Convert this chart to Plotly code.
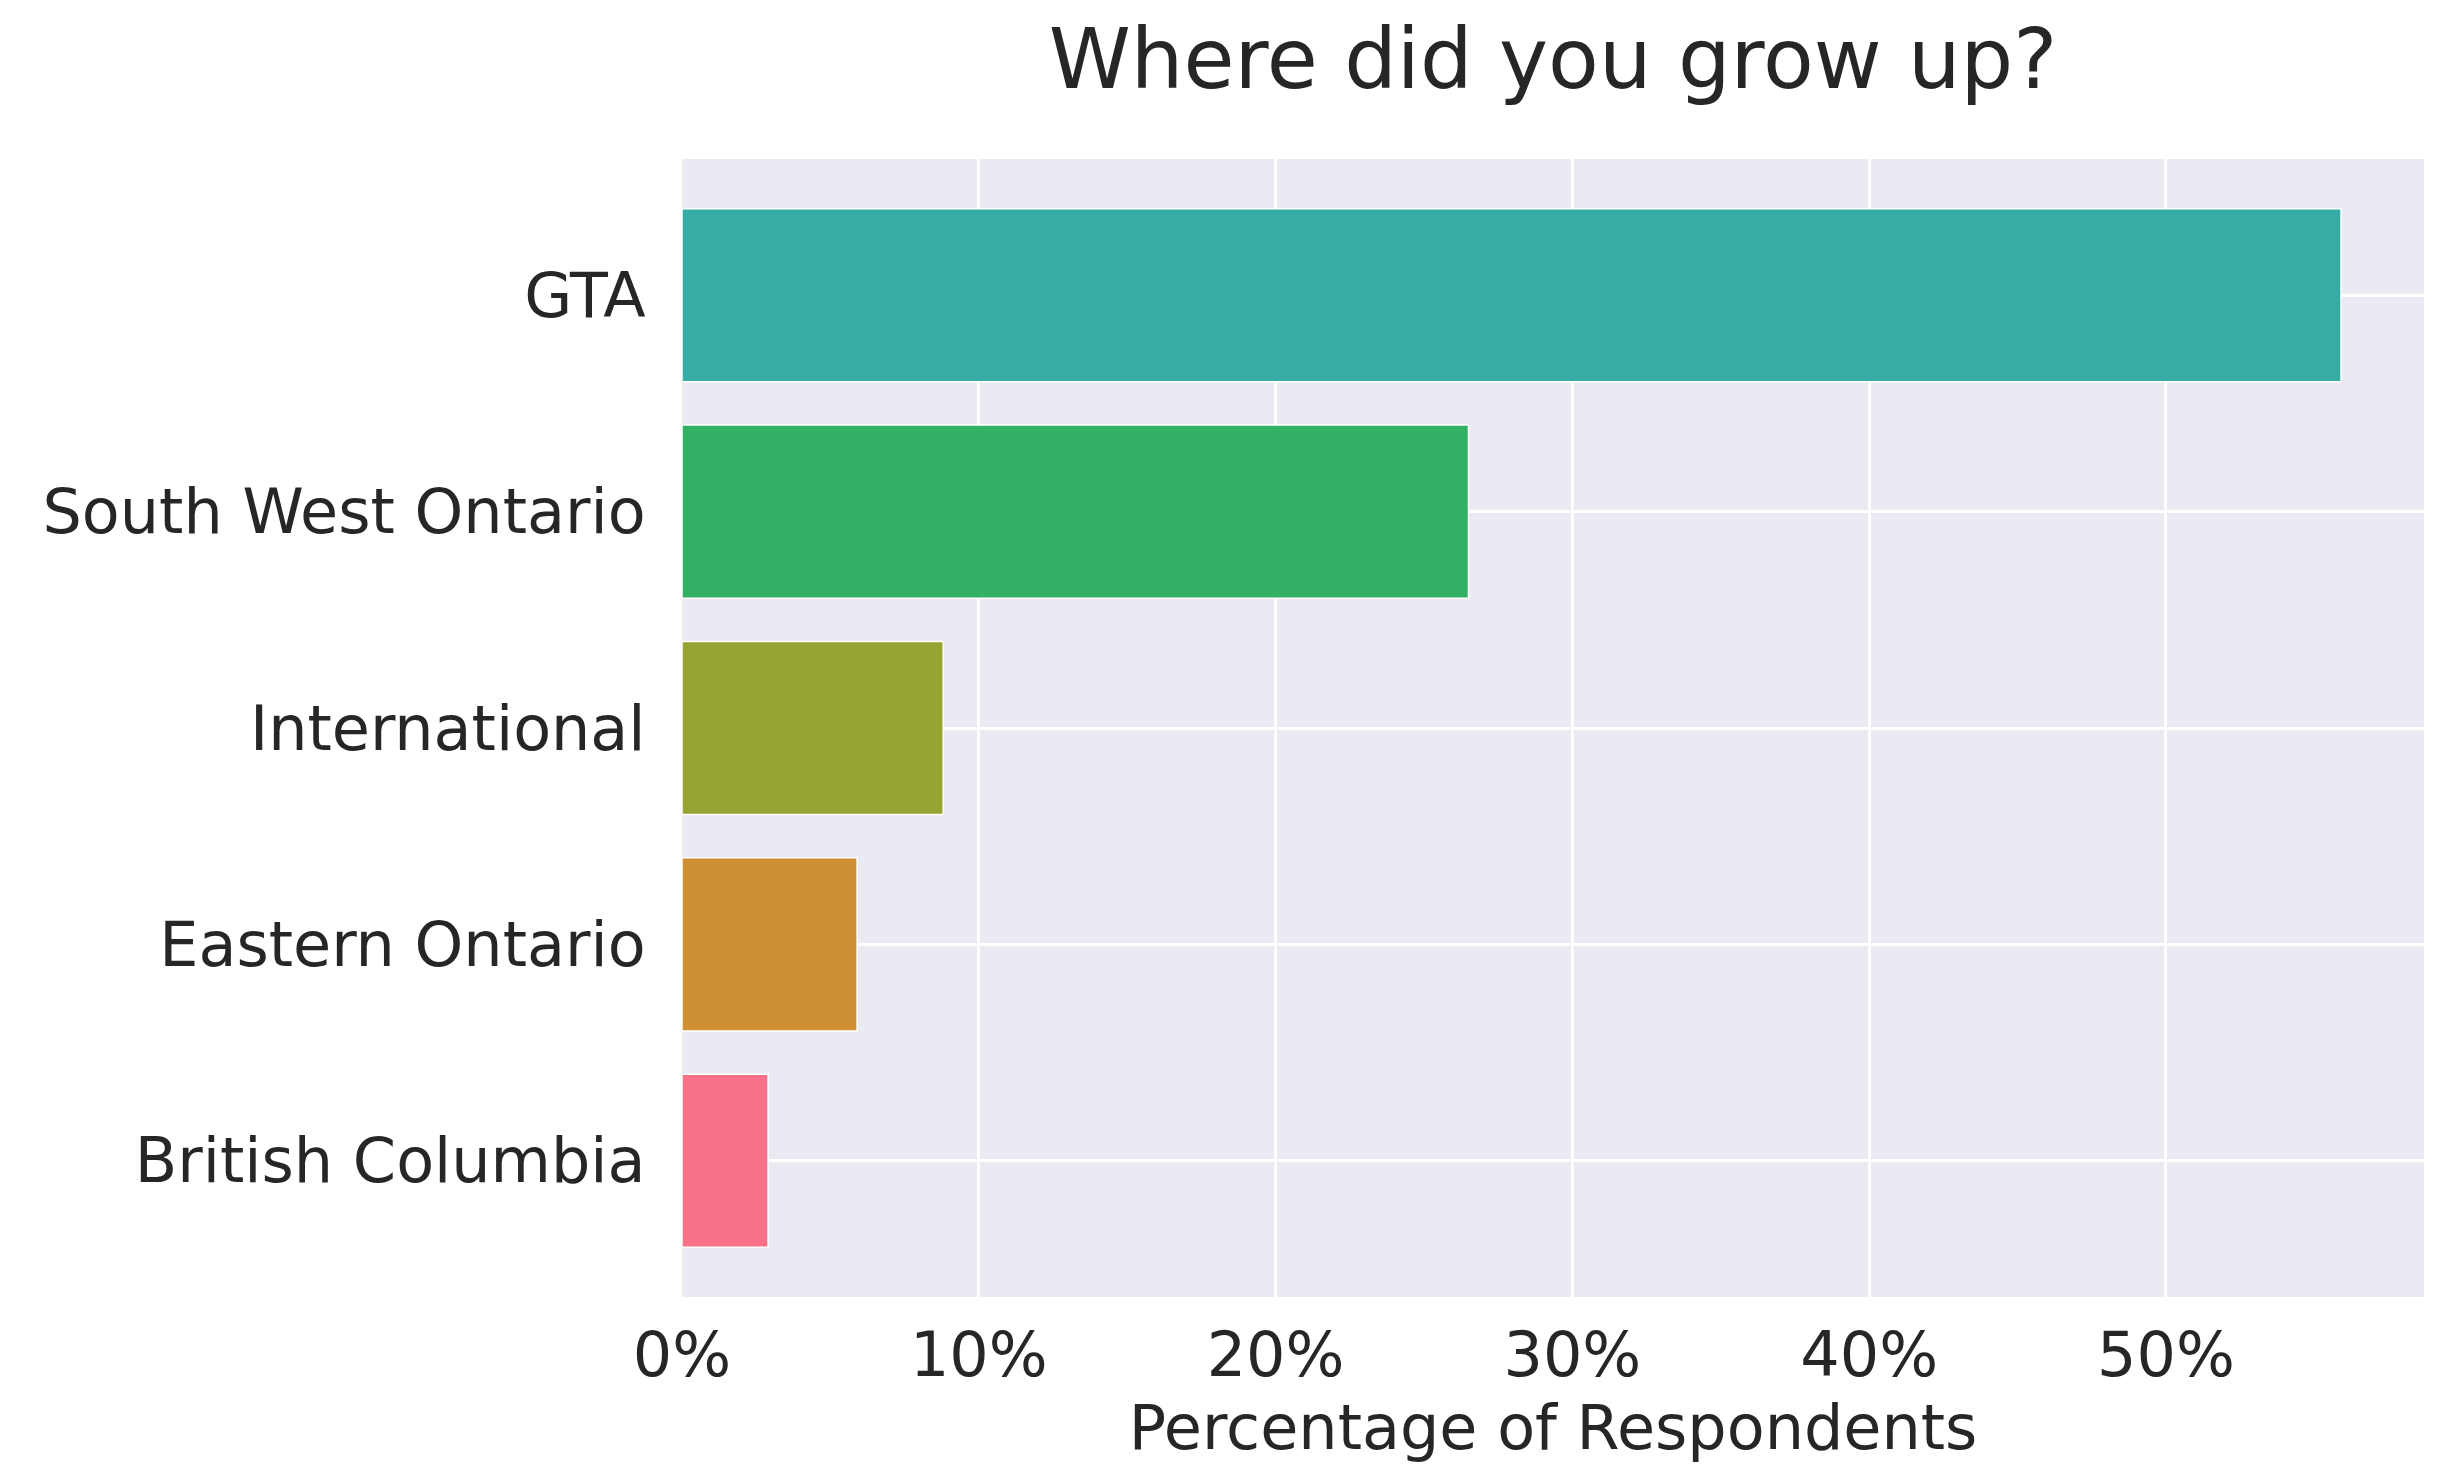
import plotly.graph_objects as go

categories = ["GTA", "South West Ontario", "International", "Eastern Ontario", "British Columbia"]
percentages = [55.9, 26.5, 8.8, 5.9, 2.9]
colors = ["#36ada4", "#32b166", "#97a431", "#ce9032", "#f77189"]
tick_vals = [0, 10, 20, 30, 40, 50]
tick_text = ["0%", "10%", "20%", "30%", "40%", "50%"]

FONT = "DejaVu Sans"
TXT = "#262626"

# page body has an 8px default margin; compensate so the chart lands at the reference positions
OFF = 8
W, H = 2443 - OFF, 1464 - OFF

fig = go.Figure(go.Bar(
    x=percentages, y=categories, orientation="h",
    marker=dict(color=colors, line=dict(color="white", width=1.5)),
    width=0.8,
))

fig.update_layout(
    width=W, height=H,
    margin=dict(l=682 - OFF, r=19 - OFF if False else 19, t=159 - OFF, b=175 - OFF, autoexpand=False),
    paper_bgcolor="white", plot_bgcolor="#eaeaf2",
    showlegend=False,
    font=dict(family=FONT, color=TXT, size=62),
    title=dict(text="Where did you grow up?", x=(682 + 2424) / 2 / 2443 * 2443 / W - OFF / W, xanchor="center",
               y=1 - (59 - OFF) / H, yanchor="middle", font=dict(size=83, family=FONT, color=TXT)),
    bargap=0.2,
)
fig.update_xaxes(
    automargin=False,
    range=[0, max(percentages) * 1.05],
    tickvals=tick_vals, ticktext=tick_text,
    showgrid=True, gridcolor="white", gridwidth=2.5,
    zeroline=False, showline=False,
    ticks="outside", ticklen=4, tickcolor="rgba(0,0,0,0)",
    tickfont=dict(size=62, family=FONT, color=TXT),
    title=dict(text="Percentage of Respondents", standoff=24, font=dict(size=62, family=FONT, color=TXT)),
)
fig.update_yaxes(
    automargin=False,
    categoryorder="array", categoryarray=categories,
    range=[4.63, -0.63],
    showgrid=True, gridcolor="white", gridwidth=2.5,
    zeroline=False, showline=False,
    ticks="outside", ticklen=23, tickcolor="rgba(0,0,0,0)",
    tickfont=dict(size=62, family=FONT, color=TXT),
)

fig.write_html("out.html")
